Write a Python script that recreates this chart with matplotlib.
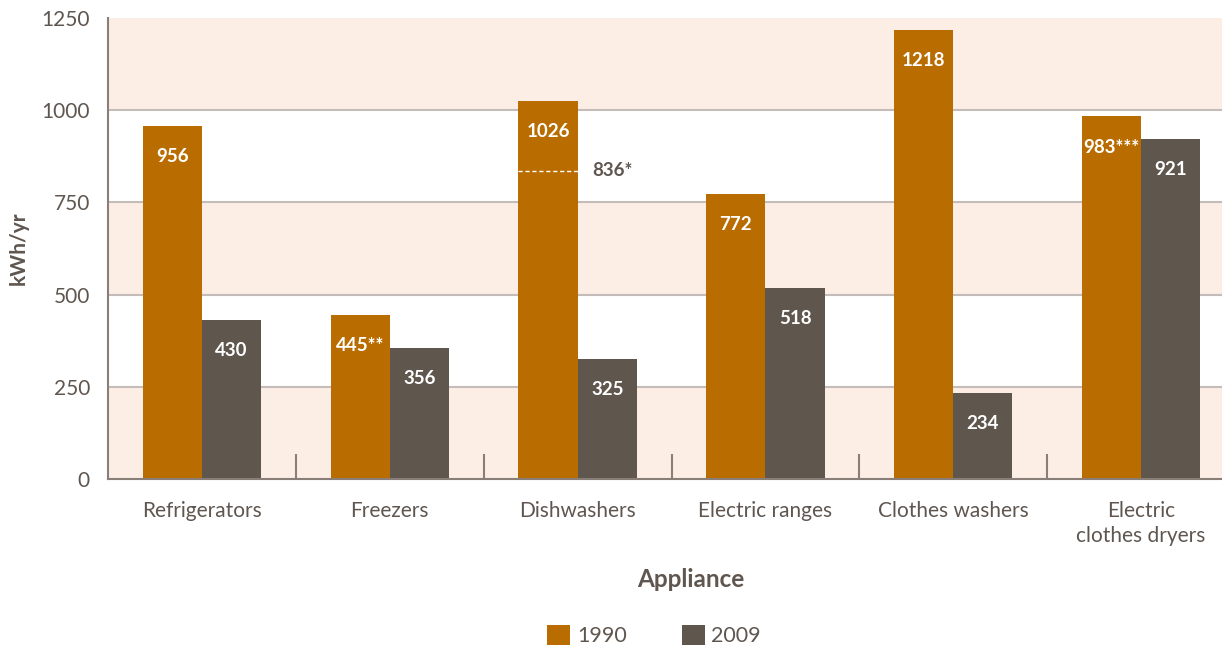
import matplotlib.pyplot as plt
import numpy as np

plt.rcParams["font.family"] = ["Lato", "DejaVu Sans"]

appliances = ["Refrigerators", "Freezers", "Dishwashers", "Electric ranges",
              "Clothes washers", "Electric\nclothes dryers"]
kwh_1990 = [956, 445, 1026, 772, 1218, 983]
kwh_2009 = [430, 356, 325, 518, 234, 921]
labels_1990 = ["956", "445**", "1026", "772", "1218", "983***"]
labels_2009 = ["430", "356", "325", "518", "234", "921"]
dishwasher_alt = 836

C1990 = "#b96d00"
C2009 = "#5f564e"
TXT = "#5f5650"
PINK = "#fcede5"

fig = plt.figure(figsize=(12.22, 6.45), dpi=100)
ax = fig.add_axes([0.0884, 0.2574, 0.9223, 0.7147])

# alternating bands
for lo in (0, 500, 1000):
    ax.axhspan(lo, lo + 250, color=PINK, zorder=0, lw=0)
for y in (250, 500, 750, 1000):
    ax.axhline(y, color="#c4bcb8", lw=1.5, zorder=1)

x = np.arange(len(appliances))
w = 0.315
b1 = ax.bar(x - w / 2, kwh_1990, w, color=C1990, zorder=2)
b2 = ax.bar(x + w / 2, kwh_2009, w, color=C2009, zorder=2)

for bars, labs in ((b1, labels_1990), (b2, labels_2009)):
    for bar, lab in zip(bars, labs):
        ax.annotate(lab, (bar.get_x() + bar.get_width() / 2, bar.get_height()),
                    xytext=(0, -22), textcoords="offset points",
                    ha="center", va="center", color="white",
                    fontsize=13.5, fontweight="bold", zorder=3)

# dishwasher alternative value
di = 2
ax.hlines(dishwasher_alt, di - w, di, colors="white", linestyles=(0, (3, 2)),
          lw=1, zorder=3)
ax.text(di + 0.08, dishwasher_alt, f"{dishwasher_alt}*", color=TXT,
        fontsize=13.5, fontweight="bold", va="center", ha="left", zorder=3)

ax.set_xlim(-0.5, len(appliances) - 0.5)
ax.set_ylim(0, 1250)
ax.set_yticks([0, 250, 500, 750, 1000, 1250])
ax.tick_params(axis="y", length=0, labelsize=15, labelcolor=TXT, pad=13)

ax.set_xticks(x)
ax.set_xticklabels(appliances, fontsize=15, color=TXT, linespacing=1.3)
ax.tick_params(axis="x", length=0, pad=16)
ax.set_xticks(np.arange(0.5, len(appliances) - 0.5, 1), minor=True)
ax.tick_params(axis="x", which="minor", direction="in", length=18,
               width=1.5, color="#8a7f78")

for s in ("top", "right"):
    ax.spines[s].set_visible(False)
for s in ("left", "bottom"):
    ax.spines[s].set_color("#8a7f78")
    ax.spines[s].set_linewidth(1.5)

ax.set_xlabel("Appliance", fontsize=17.5, fontweight="bold", color=TXT, labelpad=16)
ax.xaxis.label.set_x(0.517)
ax.set_ylabel("kWh/yr", fontsize=15, fontweight="bold", color=TXT, labelpad=9)

ax.legend([b1, b2], ["1990", "2009"], loc="center", bbox_to_anchor=(0.4845, -0.34),
          ncol=2, frameon=False, fontsize=15.5, handlelength=1.07, handleheight=1.07,
          columnspacing=2.55, handletextpad=0.3, labelcolor=TXT)

fig.savefig("out.png", dpi=100)
